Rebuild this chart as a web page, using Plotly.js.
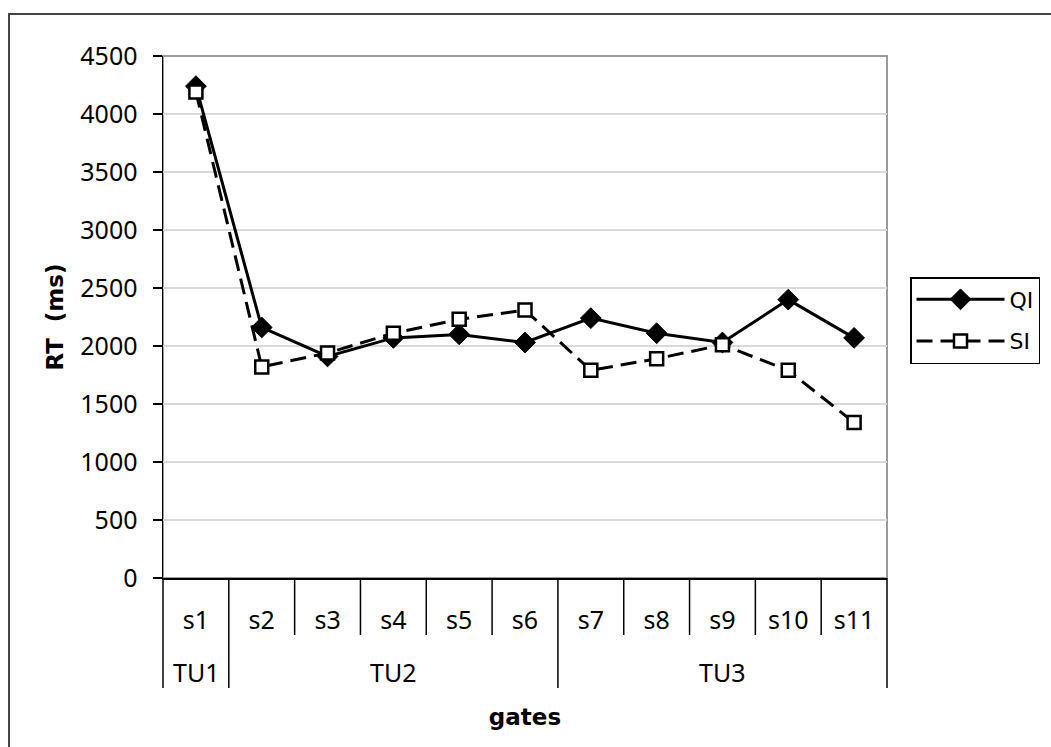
<!DOCTYPE html>
<html>
<head>
<meta charset="utf-8">
<script src="https://cdn.plot.ly/plotly-3.0.1.min.js"></script>
<style>
html,body{margin:0;padding:0;background:#fff;overflow:hidden;}
#wrap{position:relative;width:1051px;height:747px;}
#chart{width:1051px;height:747px;}
#frame{position:absolute;left:8px;top:13px;width:1100px;height:800px;border:2px solid #444;pointer-events:none;}
</style>
</head>
<body>
<div id="wrap"><div id="chart"></div><div id="frame"></div></div>
<script>
const groups = ["TU1","TU2","TU2","TU2","TU2","TU2","TU3","TU3","TU3","TU3","TU3"];
const gates = ["s1","s2","s3","s4","s5","s6","s7","s8","s9","s10","s11"];
const qi = [4240, 2160, 1910, 2070, 2100, 2030, 2240, 2110, 2030, 2400, 2070];
const si = [4190, 1820, 1940, 2110, 2230, 2310, 1790, 1890, 2010, 1790, 1340];

const FONT = "'Noto Sans', 'DejaVu Sans', sans-serif";
const BOLD = "'DejaVu Sans', sans-serif";
const tickFont = {family: FONT, size: 25, color: "#000"};

// plot geometry (px) used to express label rows in paper units
const plotH = 747 - 56 - 169;
const shortLen = 57 / plotH;
const longLen = 110 / plotH;
const groupRowY = -94 / plotH;

const traces = [
  {
    name: "QI", type: "scatter", mode: "lines+markers", legendgroup: "a",
    x: gates, y: qi,
    line: {color: "#000", width: 3},
    marker: {symbol: "diamond", size: 16, color: "#000", line: {color: "#000", width: 1}}
  },
  {
    name: "SI", type: "scatter", mode: "lines+markers", legendgroup: "b",
    x: gates, y: si,
    line: {color: "#000", width: 3, dash: "16px,8px"},
    marker: {symbol: "square", size: 13, color: "#fff", line: {color: "#000", width: 2.5}}
  }
];

// boundary lines between categories; longer ones separate groups
const shapes = [
  {type: "rect", xref: "paper", yref: "paper", x0: 0, x1: 1, y0: 0, y1: 1,
   line: {color: "#9a9a9a", width: 2}, layer: "below"}
];
const n = gates.length;
for (let i = 0; i <= n; i++) {
  const isGroupEdge = (i === 0 || i === n || groups[i] !== groups[i - 1]);
  shapes.push({
    type: "line", xref: "paper", yref: "paper",
    x0: i / n, x1: i / n, y0: 0, y1: -(isGroupEdge ? longLen : shortLen),
    line: {color: "#000", width: 1.5}
  });
}

// group labels centred under each group
const annotations = [];
let start = 0;
for (let i = 1; i <= n; i++) {
  if (i === n || groups[i] !== groups[start]) {
    const mid = (start + i) / 2;
    annotations.push({
      xref: "paper", yref: "paper", x: mid / n, y: groupRowY,
      text: groups[start], showarrow: false, xanchor: "center", yanchor: "middle",
      font: tickFont
    });
    start = i;
  }
}

const layout = {
  width: 1051, height: 747,
  paper_bgcolor: "#fff", plot_bgcolor: "#fff",
  margin: {l: 163, r: 164, t: 56, b: 169, autoexpand: false},
  showlegend: true,
  legend: {
    xref: "container", yref: "container",
    x: 910 / 1051, y: 1 - 277 / 747, xanchor: "left", yanchor: "top",
    bordercolor: "#000", borderwidth: 1.5, bgcolor: "#fff",
    font: {family: BOLD, size: 22, color: "#000"},
    itemwidth: 88,
    tracegroupgap: 10
  },
  xaxis: {
    type: "category", range: [-0.5, n - 0.5],
    showline: true, linecolor: "#000", linewidth: 1.5,
    ticks: "", showgrid: false, zeroline: false,
    tickfont: tickFont,
    ticklabelstandoff: 19,
    title: {text: "gates", font: {family: BOLD, size: 23, color: "#000", weight: "bold"}, standoff: 74}
  },
  yaxis: {
    range: [0, 4500], dtick: 500, tick0: 0,
    showline: true, linecolor: "#000", linewidth: 1.5,
    ticks: "outside", ticklen: 9, tickcolor: "#000", tickwidth: 1.5,
    showgrid: true, gridcolor: "#d9d9d9", gridwidth: 1.5,
    zeroline: false,
    tickfont: tickFont,
    ticklabelstandoff: 10,
    title: {text: "RT  (ms)", font: {family: BOLD, size: 23, color: "#000", weight: "bold"}, standoff: 10}
  },
  shapes: shapes,
  annotations: annotations
};

Plotly.newPlot("chart", traces, layout, {staticPlot: true});
</script>
</body>
</html>
